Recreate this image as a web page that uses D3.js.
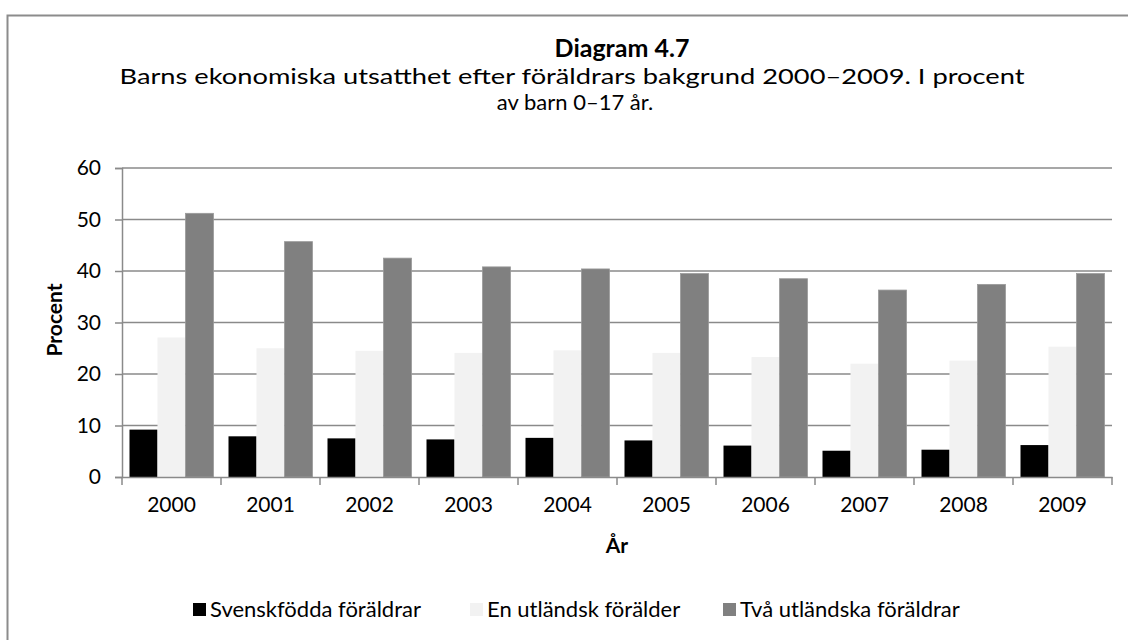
<!DOCTYPE html>
<html>
<head>
<meta charset="utf-8">
<script src="https://cdn.jsdelivr.net/npm/d3@7"></script>
<style>
  body { margin: 0; background: #fff; }
  svg { font-family: Lato, "Open Sans", sans-serif; }
</style>
</head>
<body>
<svg width="1128" height="642"></svg>
<script>
var years = ["2000","2001","2002","2003","2004","2005","2006","2007","2008","2009"];
var seriesNames = ["Svenskfödda föräldrar", "En utländsk förälder", "Två utländska föräldrar"];
var svenskfodda = [9.2, 7.9, 7.5, 7.3, 7.6, 7.1, 6.1, 5.1, 5.3, 6.2];
var enUtlandsk = [27.1, 25.0, 24.5, 24.1, 24.6, 24.1, 23.3, 22.0, 22.6, 25.3];
var tvaUtlandska = [51.2, 45.7, 42.5, 40.8, 40.4, 39.5, 38.5, 36.3, 37.4, 39.5];
var yTicks = [0, 10, 20, 30, 40, 50, 60];
var colors = ["#000000", "#f2f2f2", "#808080"];

var svg = d3.select("svg"),
    margin = {top: 168, right: 16, bottom: 165, left: 122},
    width = +svg.attr("width"),
    height = +svg.attr("height"),
    chartWidth = width - (margin.left + margin.right),
    chartHeight = 477 - margin.top;

var gridColor = "#8a8a8a";

// outer frame (only top and left show in the picture)
svg.append("path")
    .attr("d", "M7.5,640 V15.5 H1128")
    .attr("fill", "none")
    .attr("stroke", "#8c8c8c")
    .attr("stroke-width", 2);

// titles
svg.append("text")
    .attr("x", 622).attr("y", 57)
    .attr("text-anchor", "middle")
    .style("font-size", "25px").style("font-weight", "bold")
    .text("Diagram 4.7");
svg.append("text")
    .attr("x", 572).attr("y", 84)
    .attr("text-anchor", "middle")
    .style("font-size", "22px")
    .attr("textLength", 905).attr("lengthAdjust", "spacingAndGlyphs")
    .text("Barns ekonomiska utsatthet efter föräldrars bakgrund 2000–2009. I procent");
svg.append("text")
    .attr("x", 575).attr("y", 110)
    .attr("text-anchor", "middle")
    .style("font-size", "22px")
    .text("av barn 0–17 år.");

var g = svg.append("g")
    .attr("transform", "translate(" + margin.left + "," + margin.top + ")");

var x0 = d3.scaleBand().domain(years).range([0, chartWidth]).padding(0);
var x1 = d3.scaleBand().domain(d3.range(3))
    .range([7.5, x0.bandwidth() - 7.5]).padding(0);
var y = d3.scaleLinear().domain([0, 60]).range([chartHeight, 0]);

// gridlines
g.append("g").selectAll("line")
    .data(yTicks.filter(function(d) { return d > 0; }))
    .enter().append("line")
    .attr("x1", 0).attr("x2", chartWidth)
    .attr("y1", function(d) { return y(d); })
    .attr("y2", function(d) { return y(d); })
    .attr("stroke", gridColor).attr("stroke-width", 1.5);

// bars
var table = years.map(function(yr, i) {
  return {year: yr, values: [svenskfodda[i], enUtlandsk[i], tvaUtlandska[i]]};
});

var groups = g.append("g").selectAll("g")
    .data(table)
    .enter().append("g")
    .attr("transform", function(d) { return "translate(" + x0(d.year) + ",0)"; });

groups.selectAll("rect")
    .data(function(d) { return d.values.map(function(v, k) { return {k: k, v: v}; }); })
    .enter().append("rect")
    .attr("x", function(d) { return x1(d.k); })
    .attr("width", x1.bandwidth())
    .attr("y", function(d) { return y(d.v); })
    .attr("height", function(d) { return chartHeight - y(d.v); })
    .attr("fill", function(d) { return colors[d.k]; })
    .attr("stroke", function(d) { return d.k === 2 ? "#9a9a9a" : "none"; })
    .attr("stroke-width", 0.8);

// y axis
var yAxis = g.append("g")
    .call(d3.axisLeft(y).tickValues(yTicks).tickSize(7).tickPadding(14));
yAxis.selectAll("line, path").attr("stroke", gridColor).attr("stroke-width", 1.5);
yAxis.selectAll("text").style("font-size", "21px").attr("fill", "#000")
    .style("font-family", "Lato, sans-serif");

// x axis
var xAxis = g.append("g")
    .attr("transform", "translate(0," + chartHeight + ")")
    .call(d3.axisBottom(x0).tickSize(0).tickPadding(20));
xAxis.select(".domain").attr("stroke", gridColor).attr("stroke-width", 1.5);
xAxis.selectAll("text").style("font-size", "21px").attr("fill", "#000")
    .style("font-family", "Lato, sans-serif");
// category boundary ticks
xAxis.append("g").selectAll("line")
    .data(d3.range(years.length + 1))
    .enter().append("line")
    .attr("x1", function(i) { return i * x0.step(); })
    .attr("x2", function(i) { return i * x0.step(); })
    .attr("y1", 0).attr("y2", 8)
    .attr("stroke", gridColor).attr("stroke-width", 1.5);

// axis titles
svg.append("text")
    .attr("transform", "translate(62,320) rotate(-90)")
    .attr("text-anchor", "middle")
    .style("font-size", "21px").style("font-weight", "bold")
    .text("Procent");
svg.append("text")
    .attr("x", margin.left + chartWidth / 2).attr("y", 553)
    .attr("text-anchor", "middle")
    .style("font-size", "21px").style("font-weight", "bold")
    .text("År");

// legend
var legendX = [193, 470, 723];
var legend = svg.append("g").selectAll("g")
    .data(seriesNames)
    .enter().append("g")
    .attr("transform", function(d, i) { return "translate(" + legendX[i] + ",603)"; });
legend.append("rect")
    .attr("width", 13).attr("height", 13)
    .attr("fill", function(d, i) { return colors[i]; });
legend.append("text")
    .attr("x", 17).attr("y", 14)
    .style("font-size", "22px")
    .text(function(d) { return d; });
</script>
</body>
</html>
